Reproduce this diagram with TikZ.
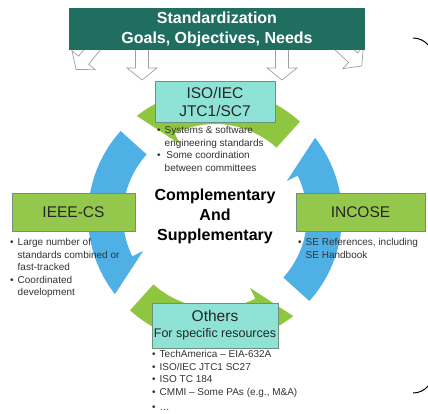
\documentclass[tikz,border=0pt]{standalone}
\usepackage{fontspec}
\setmainfont{Liberation Sans}
\usepackage{tikz}
\usetikzlibrary{arrows}
\definecolor{headgreen}{HTML}{1F6E5F}
\definecolor{boxgreen}{HTML}{94C84C}
\definecolor{boxteal}{HTML}{8FE3D6}
\definecolor{arcgreen}{HTML}{8FC640}
\definecolor{arcblue}{HTML}{4FB0E6}
\definecolor{edgegray}{HTML}{6F8F7F}
\definecolor{notegray}{HTML}{333333}
\tikzstyle{hdr} = [rectangle, fill=headgreen, text=white, align=center,
    font=\bfseries\fontsize{16}{20}\selectfont, minimum width=296pt, minimum height=42pt, inner sep=0pt]
\tikzstyle{gb} = [rectangle, draw=edgegray, fill=boxgreen, line width=0.8pt, text=black!85,
    font=\fontsize{15.5}{18}\selectfont, align=center, inner sep=0pt]
\tikzstyle{tb} = [rectangle, draw=edgegray, fill=boxteal, line width=0.8pt, text=black!85,
    font=\fontsize{15.5}{18}\selectfont, align=center, inner sep=0pt]
\tikzstyle{note} = [anchor=north west, inner sep=0pt, text=notegray, font=\fontsize{10}{12.5}\selectfont]
\tikzset{hollow/.pic={
  \draw[draw=gray!75, fill=white, line width=0.7pt]
    (-6.5,0) -- (-6.5,-26) -- (-15,-26) -- (0,-38) -- (15,-26) -- (6.5,-26) -- (6.5,0) -- cycle;}}
\newcommand{\bul}{\textbullet}

\begin{document}
\begin{tikzpicture}[x=1pt,y=1pt]
  \useasboundingbox (0,0) rectangle (428,413);

  % hollow arrows under the header
  \pic[rotate=-39] at (100,373) {hollow};
  \pic at (142,371) {hollow};
  \pic at (282,371) {hollow};
  \pic[rotate=47] at (334,373) {hollow};
  \node[hdr] (std) at (217,384) {Standardization\\Goals, Objectives, Needs};

  % circular arrows
  \coordinate (ctr) at (215,197);
  \fill[arcgreen] ([shift={(48:127pt)}]ctr) arc[start angle=48, end angle=128, radius=127pt]
    -- ([shift={(116:80pt)}]ctr) -- ([shift={(116:92pt)}]ctr) arc[start angle=116, end angle=48, radius=92pt] -- cycle;
  \fill[arcblue] ([shift={(138:127pt)}]ctr) arc[start angle=138, end angle=218, radius=127pt]
    -- ([shift={(206:80pt)}]ctr) -- ([shift={(206:92pt)}]ctr) arc[start angle=206, end angle=138, radius=92pt] -- cycle;
  \fill[arcgreen] ([shift={(228:127pt)}]ctr) arc[start angle=228, end angle=308, radius=127pt]
    -- ([shift={(296:80pt)}]ctr) -- ([shift={(296:92pt)}]ctr) arc[start angle=296, end angle=228, radius=92pt] -- cycle;
  \fill[arcblue] ([shift={(-42:127pt)}]ctr) arc[start angle=-42, end angle=38, radius=127pt]
    -- ([shift={(26:80pt)}]ctr) -- ([shift={(26:92pt)}]ctr) arc[start angle=26, end angle=-42, radius=92pt] -- cycle;

  % boxes
  \node[tb, minimum width=120pt, minimum height=41pt] (iso) at (215,311.5) {ISO/IEC\\JTC1/SC7};
  \node[gb, minimum width=123pt, minimum height=38pt] (ieee) at (73.5,200.5) {IEEE-CS};
  \node[gb, minimum width=129pt, minimum height=38pt] (incose) at (360.5,200.5) {INCOSE};
  \node[tb, minimum width=126pt, minimum height=45pt] (others) at (215,87.5)
    {Others\\[-2pt]{\fontsize{12.5}{14}\selectfont For specific resources}};
  \node[align=center, font=\bfseries\fontsize{16}{20}\selectfont] (mid) at (ctr) {Complementary\\And\\Supplementary};

  % notes
  \node[note] (isonote) at (157,288) {\begin{tabular}{@{}l@{\hspace{4pt}}l@{}}
    \bul & Systems \& software\\ & engineering standards\\
    \bul & \,Some coordination\\ & between committees\end{tabular}};
  \node[note] (ieeenote) at (10,176) {\begin{tabular}{@{}l@{\hspace{4pt}}l@{}}
    \bul & Large number of\\ & standards combined or\\ & fast-tracked\\
    \bul & Coordinated\\ & development\end{tabular}};
  \node[note] (incosenote) at (298,176) {\begin{tabular}{@{}l@{\hspace{4pt}}l@{}}
    \bul & SE References, including\\ & SE Handbook\end{tabular}};
  \node[note] (othernote) at (152,64) {\begin{tabular}{@{}l@{\hspace{4pt}}l@{}}
    \bul & TechAmerica -- EIA-632A\\ \bul & ISO/IEC JTC1 SC27\\ \bul & ISO TC 184\\
    \bul & CMMI -- Some PAs (e.g., M\&A)\\[3pt] \bul & \ldots\end{tabular}};

  % brace on the right
  \coordinate (bt) at (413,375);
  \coordinate (bb) at (413,20);
  \draw[line width=1pt] (bt) to[out=0,in=90] (434,352) -- (434,43) to[out=-90,in=0] (bb);
\end{tikzpicture}
\end{document}
